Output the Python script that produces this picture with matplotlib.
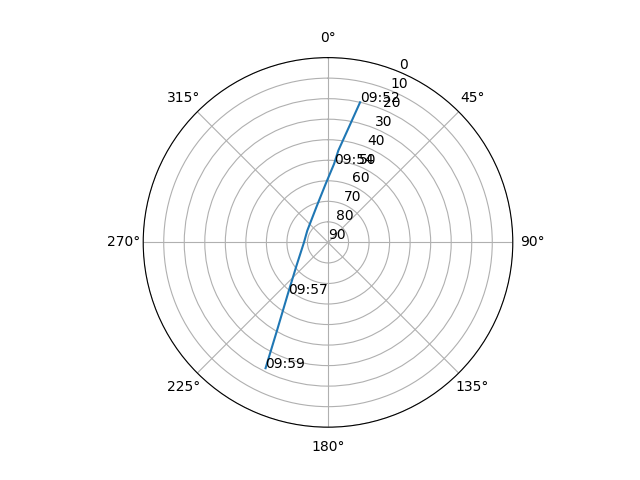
import numpy as np
import matplotlib
matplotlib.use("Agg")
import matplotlib.pyplot as plt

# satellite pass: azimuth (deg) and elevation (deg)
azimuth = [12.9, 10.5, 6.4, 4.4, 357.7, 343.3, 299.5, 270.0, 233.5, 218.0, 210.0, 206.4]
elevation = [20.0, 32.1, 45.0, 51.7, 61.5, 71.3, 78.4, 78.3, 70.9, 58.3, 40.2, 21.6]

# time stamps and the sample they belong to
label_times = ["09:52", "09:54", "09:57", "09:59"]
label_index = [0, 3, 9, 11]


def generate_plot():
    fig = plt.figure(figsize=(6.4, 4.8), dpi=100)
    ax = fig.add_subplot(111, projection='polar')
    ax.set_theta_zero_location('N')
    ax.set_theta_direction(-1)

    theta = np.radians(azimuth)
    ax.plot(theta, elevation)
    for t, i in zip(label_times, label_index):
        ax.text(theta[i], elevation[i], t)

    ax.set_ylim(90, 0)
    ax.set_yticks(range(0, 91, 10))
    plt.savefig('out.png')


if __name__ == '__main__':
    generate_plot()
